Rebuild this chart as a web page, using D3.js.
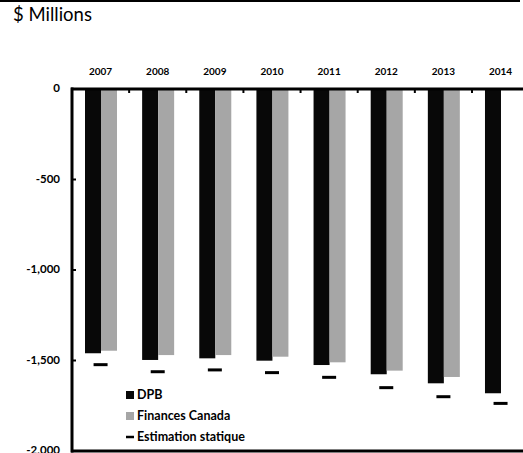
<!DOCTYPE html>
<html><head><meta charset="utf-8">
<script src="https://cdn.jsdelivr.net/npm/d3@7"></script>
<style>body{margin:0;background:#fff}svg{display:block}text{font-family:Lato,"Open Sans",sans-serif}</style>
</head><body><svg id="c" width="523" height="453"></svg>
<script>
const years = ["2007","2008","2009","2010","2011","2012","2013","2014"];
const dpb = [-1460,-1497,-1488,-1501,-1525,-1576,-1626,-1681];
const finances = [-1446,-1470,-1470,-1479,-1510,-1556,-1591,null];
const estimation = [-1523,-1562,-1552,-1567,-1593,-1650,-1700,-1737];
const yTicks = [0,-500,-1000,-1500,-2000];
const legendLabels = ["DPB","Finances Canada","Estimation statique"];

(function(){
const svg = d3.select("#c");
const pLeft = 72, pTop = 89, pBottom = 451;
const step = 57.14;
const x = d3.scaleBand().domain(years).range([pLeft, pLeft + step*years.length]).paddingInner(0).paddingOuter(0);
const y = d3.scaleLinear().domain([0,-2000]).range([pTop,pBottom]);
const barW = 16, off = 13;

svg.append("line").attr("x1",0).attr("x2",520).attr("y1",1).attr("y2",1).attr("stroke","#000").attr("stroke-width",2);
svg.append("text").attr("x",13).attr("y",21).attr("font-family","'Open Sans',sans-serif").attr("font-size",18.5).attr("fill","#000").text("$ Millions");

svg.append("g").selectAll("rect").data(years).join("rect")
  .attr("x",d=>x(d)+off).attr("width",barW)
  .attr("y",y(0)).attr("height",(d,i)=>y(dpb[i])-y(0)).attr("fill","#080808");
svg.append("g").selectAll("rect").data(years.filter((d,i)=>finances[i]!=null)).join("rect")
  .attr("x",d=>x(d)+off+barW).attr("width",barW)
  .attr("y",y(0)).attr("height",d=>y(finances[years.indexOf(d)])-y(0)).attr("fill","#a6a6a6");
svg.append("g").selectAll("line").data(years).join("line")
  .attr("x1",d=>x(d)+x.bandwidth()/2-7).attr("x2",d=>x(d)+x.bandwidth()/2+7)
  .attr("y1",(d,i)=>y(estimation[i])).attr("y2",(d,i)=>y(estimation[i]))
  .attr("stroke","#000").attr("stroke-width",3);

const xa = svg.append("g").attr("transform",`translate(0,${pTop})`);
xa.append("line").attr("x1",pLeft-1).attr("x2",523).attr("y1",0).attr("y2",0).attr("stroke","#000").attr("stroke-width",3);
xa.selectAll("line.t").data(years.slice(1)).join("line").attr("class","t")
  .attr("x1",d=>x(d)).attr("x2",d=>x(d)).attr("y1",0).attr("y2",4).attr("stroke","#000").attr("stroke-width",2);
xa.selectAll("text").data(years).join("text")
  .attr("x",d=>x(d)+x.bandwidth()/2).attr("y",-14.5).attr("text-anchor","middle")
  .attr("font-size",10).attr("font-weight","bold").text(d=>d);

svg.append("line").attr("x1",pLeft-1).attr("x2",523).attr("y1",pBottom).attr("y2",pBottom).attr("stroke","#000").attr("stroke-width",3);

const ya = svg.append("g").attr("transform",`translate(${pLeft},0)`);
ya.append("line").attr("x1",0).attr("x2",0).attr("y1",pTop-1.5).attr("y2",pBottom+1.5).attr("stroke","#000").attr("stroke-width",3);
ya.selectAll("line.t").data(yTicks).join("line").attr("class","t")
  .attr("x1",0).attr("x2",4).attr("y1",d=>y(d)).attr("y2",d=>y(d)).attr("stroke","#000").attr("stroke-width",2);
const fmt = d3.format(",");
ya.selectAll("text").data(yTicks).join("text")
  .attr("x",-12).attr("y",d=>y(d)-1).attr("dy","0.35em").attr("text-anchor","end")
  .attr("font-size",11.5).attr("font-weight","bold").text(d=>fmt(d).replace("−","-"));

const lg = svg.append("g");
const ly = [395,416,437];
lg.append("rect").attr("x",126).attr("y",ly[0]-4).attr("width",8).attr("height",8).attr("fill","#080808");
lg.append("rect").attr("x",126).attr("y",ly[1]-4).attr("width",8).attr("height",8).attr("fill","#a6a6a6");
lg.append("line").attr("x1",126).attr("x2",134).attr("y1",ly[2]).attr("y2",ly[2]).attr("stroke","#000").attr("stroke-width",2.5);
lg.selectAll("text").data(legendLabels).join("text")
  .attr("x",137).attr("y",(d,i)=>ly[i]).attr("dy","0.35em").attr("font-size",12.5).attr("font-weight","bold").text(d=>d);
})();
</script></body></html>
